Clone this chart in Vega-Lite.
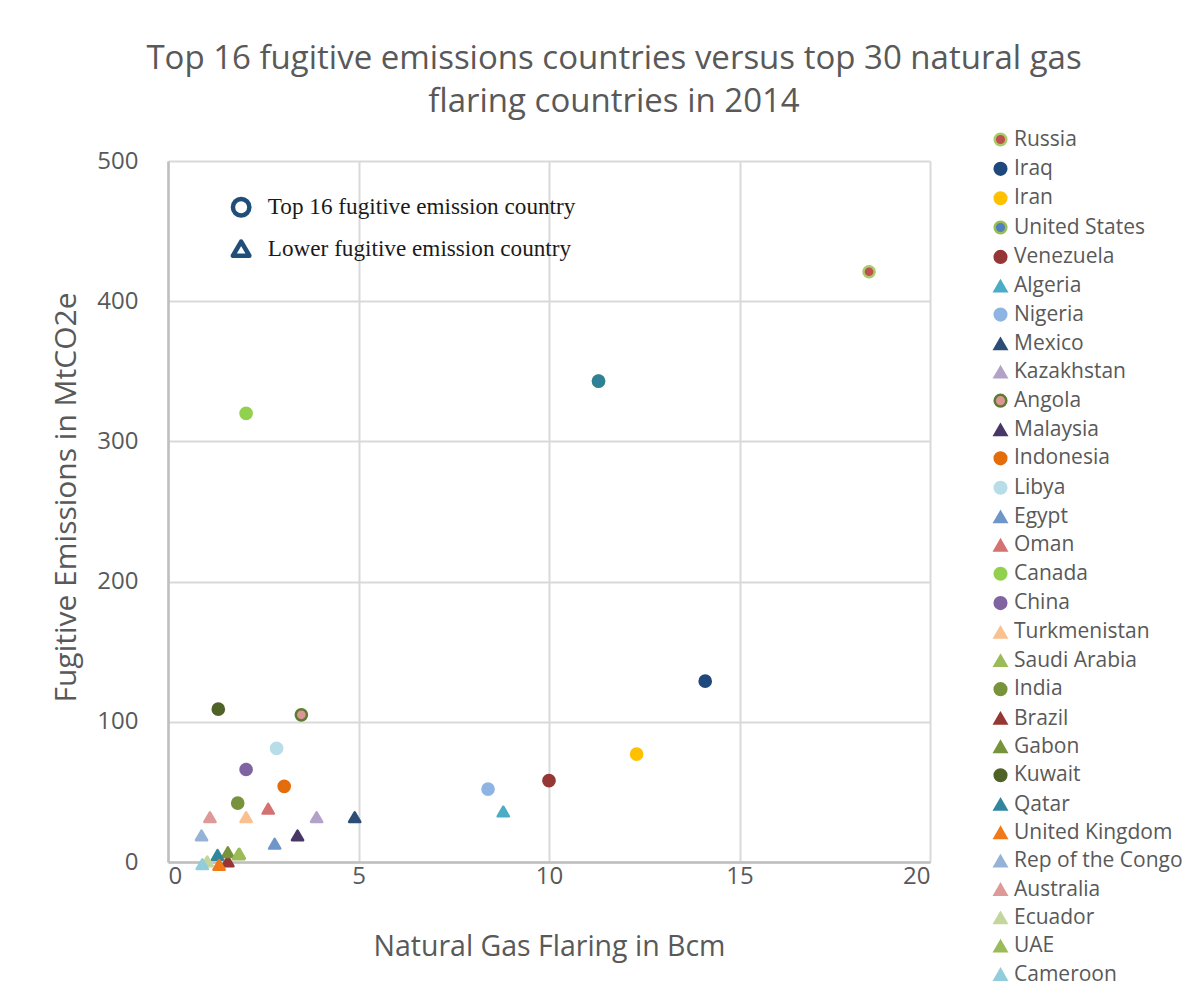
{
  "$schema": "https://vega.github.io/schema/vega-lite/v6.json",
  "autosize": {"type": "none"},
  "width": 762,
  "height": 701,
  "padding": {"left": 168, "top": 161, "right": 270, "bottom": 132},
  "background": "white",
  "title": {
    "text": ["Top 16 fugitive emissions countries versus top 30 natural gas", "flaring countries in 2014"],
    "anchor": "middle",
    "frame": "group",
    "dx": 65,
    "font": "Open Sans",
    "fontSize": 33,
    "fontWeight": "normal",
    "color": "#595959",
    "lineHeight": 43,
    "offset": 10
  },
  "config": {
    "view": {"stroke": null},
    "axis": {
      "labelFont": "Open Sans",
      "titleFont": "Open Sans",
      "labelColor": "#595959",
      "titleColor": "#595959",
      "titleFontWeight": "normal",
      "labelFontSize": 24,
      "titleFontSize": 28.5,
      "ticks": false,
      "domainColor": "#BFBFBF",
      "domainWidth": 2.5,
      "gridColor": "#D9D9D9",
      "gridWidth": 2
    },
    "legend": {
      "labelFont": "Open Sans",
      "labelFontSize": 21,
      "labelColor": "#595959",
      "labelLimit": 300
    }
  },
  "datasets": {
    "countries": [
      {"country": "Russia", "flaring": 18.4, "fugitive": 421},
      {"country": "Iraq", "flaring": 14.1, "fugitive": 129},
      {"country": "Iran", "flaring": 12.3, "fugitive": 77},
      {"country": "United States", "flaring": 11.3, "fugitive": 343},
      {"country": "Venezuela", "flaring": 10.0, "fugitive": 58},
      {"country": "Algeria", "flaring": 8.8, "fugitive": 36},
      {"country": "Nigeria", "flaring": 8.4, "fugitive": 52},
      {"country": "Mexico", "flaring": 4.9, "fugitive": 32},
      {"country": "Kazakhstan", "flaring": 3.9, "fugitive": 32},
      {"country": "Angola", "flaring": 3.5, "fugitive": 105},
      {"country": "Malaysia", "flaring": 3.4, "fugitive": 19},
      {"country": "Indonesia", "flaring": 3.05, "fugitive": 54},
      {"country": "Libya", "flaring": 2.85, "fugitive": 81},
      {"country": "Egypt", "flaring": 2.8, "fugitive": 13},
      {"country": "Oman", "flaring": 2.63, "fugitive": 38},
      {"country": "Canada", "flaring": 2.05, "fugitive": 320},
      {"country": "China", "flaring": 2.05, "fugitive": 66},
      {"country": "Turkmenistan", "flaring": 2.05, "fugitive": 32},
      {"country": "Saudi Arabia", "flaring": 1.87, "fugitive": 6},
      {"country": "India", "flaring": 1.83, "fugitive": 42},
      {"country": "Brazil", "flaring": 1.57, "fugitive": 0.5},
      {"country": "Gabon", "flaring": 1.57, "fugitive": 7},
      {"country": "Kuwait", "flaring": 1.32, "fugitive": 109},
      {"country": "Qatar", "flaring": 1.3, "fugitive": 5},
      {"country": "United Kingdom", "flaring": 1.34, "fugitive": -2},
      {"country": "Rep of the Congo", "flaring": 0.88, "fugitive": 19},
      {"country": "Australia", "flaring": 1.1, "fugitive": 32},
      {"country": "Ecuador", "flaring": 1.03, "fugitive": 0.5},
      {"country": "UAE", "flaring": 1.85, "fugitive": 5.5},
      {"country": "Cameroon", "flaring": 0.9, "fugitive": -1.5}
    ],
    "key": [
      {"label": "Top 16 fugitive emission country", "symbol": "circle", "mx": 1.92, "tx": 2.62, "ky": 467},
      {"label": "Lower fugitive emission country", "symbol": "triangle-up", "mx": 1.92, "tx": 2.62, "ky": 437.5}
    ]
  },
  "layer": [
    {
      "data": {"name": "countries"},
      "mark": {"type": "point", "filled": true, "size": 125, "strokeWidth": 2.5, "strokeJoin": "round", "opacity": 1},
      "encoding": {
        "x": {
          "field": "flaring",
          "type": "quantitative",
          "scale": {"domain": [0, 20], "nice": false, "zero": false},
          "axis": {"title": "Natural Gas Flaring in Bcm", "values": [0, 5, 10, 15, 20], "labelPadding": 2, "titlePadding": 44}
        },
        "y": {
          "field": "fugitive",
          "type": "quantitative",
          "scale": {"domain": [0, 500], "nice": false, "zero": false},
          "axis": {"title": "Fugitive Emissions  in MtCO2e", "titleFontSize": 30, "values": [0, 100, 200, 300, 400, 500], "labelPadding": 30, "titlePadding": 15, "titleY": 336}
        },
        "fill": {
          "field": "country",
          "type": "nominal",
          "scale": {
            "domain": ["Russia", "Iraq", "Iran", "United States", "Venezuela", "Algeria", "Nigeria", "Mexico", "Kazakhstan", "Angola", "Malaysia", "Indonesia", "Libya", "Egypt", "Oman", "Canada", "China", "Turkmenistan", "Saudi Arabia", "India", "Brazil", "Gabon", "Kuwait", "Qatar", "United Kingdom", "Rep of the Congo", "Australia", "Ecuador", "UAE", "Cameroon"],
            "range": ["#C0504D", "#1F497D", "#FFC000", "#4F81BD", "#953735", "#4BACC6", "#8EB4E3", "#2C4D75", "#B3A2C7", "#D99694", "#483766", "#E46C0A", "#B7DEE8", "#6F96C9", "#D47272", "#92D050", "#8064A2", "#FAC090", "#9BBB59", "#77933C", "#953735", "#77933C", "#4F6228", "#31859C", "#F07A1A", "#95B3D7", "#DD9A99", "#C3D69B", "#9BBB59", "#92CDDC"]
          },
          "legend": {
            "orient": "none",
            "legendX": 822,
            "legendY": -32,
            "title": null,
            "symbolSize": 135,
            "symbolStrokeWidth": 2.5,
            "rowPadding": 6.35,
            "labelOffset": 3
          }
        },
        "stroke": {
          "field": "country",
          "type": "nominal",
          "scale": {
            "domain": ["Russia", "Iraq", "Iran", "United States", "Venezuela", "Algeria", "Nigeria", "Mexico", "Kazakhstan", "Angola", "Malaysia", "Indonesia", "Libya", "Egypt", "Oman", "Canada", "China", "Turkmenistan", "Saudi Arabia", "India", "Brazil", "Gabon", "Kuwait", "Qatar", "United Kingdom", "Rep of the Congo", "Australia", "Ecuador", "UAE", "Cameroon"],
            "range": ["#A9CB6E", "#1F497D", "#FFC000", "#9BBB59", "#953735", "#4BACC6", "#8EB4E3", "#2C4D75", "#B3A2C7", "#5E7C2F", "#483766", "#E46C0A", "#B7DEE8", "#6F96C9", "#D47272", "#92D050", "#8064A2", "#FAC090", "#9BBB59", "#77933C", "#953735", "#77933C", "#4F6228", "#31859C", "#F07A1A", "#95B3D7", "#DD9A99", "#C3D69B", "#9BBB59", "#92CDDC"]
          },
          "legend": {
            "orient": "none",
            "legendX": 822,
            "legendY": -32,
            "title": null,
            "symbolSize": 135,
            "symbolStrokeWidth": 2.5,
            "rowPadding": 6.35,
            "labelOffset": 3
          }
        },
        "shape": {
          "field": "country",
          "type": "nominal",
          "scale": {
            "domain": ["Russia", "Iraq", "Iran", "United States", "Venezuela", "Algeria", "Nigeria", "Mexico", "Kazakhstan", "Angola", "Malaysia", "Indonesia", "Libya", "Egypt", "Oman", "Canada", "China", "Turkmenistan", "Saudi Arabia", "India", "Brazil", "Gabon", "Kuwait", "Qatar", "United Kingdom", "Rep of the Congo", "Australia", "Ecuador", "UAE", "Cameroon"],
            "range": ["circle", "circle", "circle", "circle", "circle", "triangle-up", "circle", "triangle-up", "triangle-up", "circle", "triangle-up", "circle", "circle", "triangle-up", "triangle-up", "circle", "circle", "triangle-up", "triangle-up", "circle", "triangle-up", "triangle-up", "circle", "triangle-up", "triangle-up", "triangle-up", "triangle-up", "triangle-up", "triangle-up", "triangle-up"]
          },
          "legend": {
            "orient": "none",
            "legendX": 822,
            "legendY": -32,
            "title": null,
            "symbolSize": 135,
            "symbolStrokeWidth": 2.5,
            "rowPadding": 6.35,
            "labelOffset": 3
          }
        }
      }
    },
    {
      "data": {"name": "countries"},
      "transform": [{"filter": "datum.country === 'United States'"}],
      "mark": {"type": "point", "filled": true, "size": 125, "strokeWidth": 2.5, "fill": "#2F8099", "stroke": "#2F8099", "opacity": 1, "shape": "circle"},
      "encoding": {
        "x": {"field": "flaring", "type": "quantitative"},
        "y": {"field": "fugitive", "type": "quantitative"}
      }
    },
    {
      "data": {"name": "key"},
      "mark": {"type": "point", "filled": false, "size": 270, "strokeWidth": 4.5, "color": "#1F4E79", "strokeJoin": "round", "opacity": 1},
      "encoding": {
        "x": {"field": "mx", "type": "quantitative"},
        "y": {"field": "ky", "type": "quantitative"},
        "shape": {"field": "symbol", "type": "nominal", "scale": null, "legend": null}
      }
    },
    {
      "data": {"name": "key"},
      "mark": {"type": "text", "align": "left", "baseline": "middle", "font": "Liberation Serif", "fontSize": 23.2, "color": "#1A1A1A"},
      "encoding": {
        "x": {"field": "tx", "type": "quantitative"},
        "y": {"field": "ky", "type": "quantitative"},
        "text": {"field": "label", "type": "nominal"}
      }
    }
  ]
}
